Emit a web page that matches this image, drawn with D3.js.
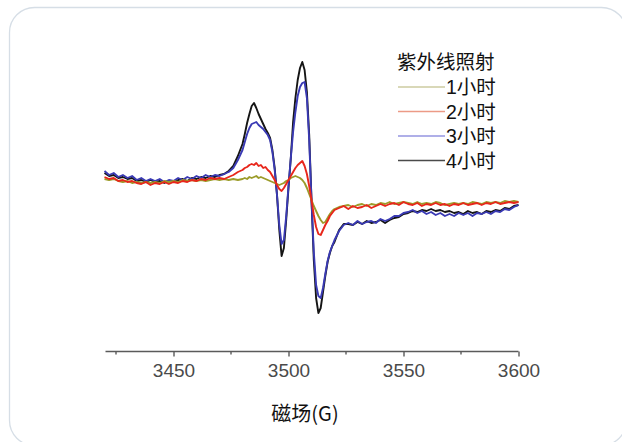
<!DOCTYPE html>
<html><head><meta charset="utf-8">
<script src="https://cdn.jsdelivr.net/npm/d3@7"></script>
<style>
html,body{margin:0;padding:0;background:#fff;}
svg{display:block;}
</style></head>
<body>
<svg id="chart" width="622" height="442"></svg>
<script>
// Magnetic field (G)
const fieldA = d3.range(3420, 3479, 2);
const fieldB = d3.range(3480, 3521, 1);
const fieldC = d3.range(3522, 3601, 2);
const field = fieldA.concat(fieldB, fieldC);

const xTicks = [3450, 3500, 3550, 3600];
const xMinorTicks = [3425, 3475, 3525, 3575];
const xTitle = "磁场(G)";
const legendTitle = "紫外线照射";
const seriesNames = ["1小时", "2小时", "3小时", "4小时"];

const s1h = [
  1,0,1,-1,-2,-1,-3,-2,-3,-2,-3,-2,-3,-1,-2,-1,-2,0,-1,0,-1,0,-1,0,1,0,1,0,1,0,
  1,2,1,3,2,3,4,2,3,2,1,0,-1,-2,-3,-4,-5,-4,-3,-1,0,2,3,4,3,2,0,-3,-8,-14,-20,-26,-31,-36,-40,-43,-42,-38,-34,-31,-29,
  -27,-26,-25,-27,-25,-24,-26,-24,-25,-23,-24,-22,-24,-23,-22,-23,-24,-22,-24,-23,-24,-22,-23,-25,-24,-23,-24,-23,-24,-22,-23,-24,-22,-23,-22,-23,-21,-22,-21,-22
];
const s2h = [
  3,1,2,-1,0,-2,-1,-3,-4,-2,-5,-3,-4,-2,-4,-2,-3,-1,-2,0,-1,1,0,2,1,2,1,3,5,8,
  10,12,13,15,16,15,17,14,15,12,13,10,8,4,0,-5,-9,-11,-8,-4,0,4,8,12,15,17,19,14,6,-6,-20,-35,-47,-54,-55,-50,-45,-41,-36,-33,-30,
  -28,-26,-29,-26,-28,-27,-25,-28,-26,-24,-26,-24,-23,-25,-22,-24,-25,-23,-26,-24,-25,-23,-25,-24,-26,-24,-25,-23,-25,-24,-23,-25,-23,-24,-22,-24,-23,-22,-23,-22
];
const s3h = [
  9,5,7,3,5,2,4,0,2,-1,1,-1,1,-2,0,-1,2,0,3,1,4,2,5,3,5,4,6,8,12,20,
  30,38,46,52,56,57,58,55,53,51,48,45,40,28,10,-15,-45,-64,-60,-36,-6,22,48,68,84,93,97,98,82,40,-20,-72,-105,-116,-118,-108,-94,-81,-72,-66,-60,
  -51,-45,-43,-45,-41,-44,-42,-41,-43,-39,-41,-39,-36,-36,-33,-32,-30,-33,-31,-34,-32,-35,-33,-36,-34,-36,-33,-35,-33,-36,-33,-34,-32,-34,-31,-32,-29,-30,-27,-25
];
const s4h = [
  7,4,5,2,3,1,2,-1,0,-2,0,-2,-1,-3,-1,-2,0,1,-1,2,1,3,2,4,3,5,6,9,14,24,
  36,46,57,66,74,77,72,66,61,56,51,47,42,30,12,-15,-50,-76,-68,-40,-8,22,58,82,100,112,118,110,88,45,-20,-80,-118,-133,-128,-112,-96,-82,-73,-66,-62,
  -50,-44,-44,-45,-42,-44,-41,-43,-42,-40,-43,-40,-38,-37,-34,-33,-31,-32,-30,-31,-29,-31,-30,-32,-31,-33,-32,-34,-31,-33,-32,-34,-31,-32,-30,-31,-28,-29,-26,-25
];

const seriesValues = [s1h, s2h, s3h, s4h];
const lineColors = ["#9c9c2a", "#e8261b", "#3a3ab4", "#151515"];
const legendColors = ["#cdcba0", "#ec9a86", "#9494e0", "#4a4a4a"];
const drawOrder = [3, 2, 0, 1];

const svg = d3.select("#chart");

// card
svg.append("rect")
  .attr("x", 9.5).attr("y", 7.5)
  .attr("width", 617).attr("height", 438)
  .attr("rx", 25).attr("ry", 25)
  .attr("fill", "#fff")
  .attr("stroke", "#d6dee6")
  .attr("stroke-width", 1.3);

const x = d3.scaleLinear().domain([3420, 3600]).range([104.5, 518.5]);
const y = d3.scaleLinear().domain([-150, 150]).range([330, 30]);

const line = d3.line()
  .x((d, i) => x(field[i]))
  .y(d => y(d));

const plot = svg.append("g");
drawOrder.forEach(k => {
  plot.append("path")
    .datum(seriesValues[k])
    .attr("d", line)
    .attr("fill", "none")
    .attr("stroke", lineColors[k])
    .attr("stroke-width", 1.9)
    .attr("stroke-linejoin", "round");
});

// x axis
const axisY = 351.5;
const gAxis = svg.append("g").attr("transform", `translate(0,${axisY})`);
gAxis.call(d3.axisBottom(x).tickValues(xTicks).tickSize(5).tickPadding(7).tickFormat(d3.format("d")));
gAxis.select(".domain").attr("stroke", "#5a5a5a").attr("stroke-width", 1.6)
  .attr("d", `M${x(3420)+1},0H${x(3600)}`);
gAxis.selectAll(".tick line").attr("stroke", "#5a5a5a").attr("stroke-width", 1.4);
gAxis.selectAll(".tick text")
  .attr("fill", "#4a4a4a")
  .style("font-family", "Liberation Sans, Arial, sans-serif")
  .style("font-size", "19px");
gAxis.selectAll(".minor")
  .data(xMinorTicks)
  .enter().append("line")
  .attr("x1", d => x(d)).attr("x2", d => x(d))
  .attr("y1", 0).attr("y2", 3)
  .attr("stroke", "#5a5a5a").attr("stroke-width", 1.4);

svg.append("text")
  .attr("x", 305).attr("y", 412)
  .attr("text-anchor", "middle")
  .attr("dominant-baseline", "central")
  .style("font-family", "Noto Sans CJK SC, sans-serif")
  .style("font-size", "20px")
  .attr("fill", "#111")
  .text(xTitle);

// legend (Latin primary font keeps line boxes compact; CJK glyphs fall back)
const legendFont = "'Liberation Sans', 'Noto Sans CJK SC', sans-serif";
const lg = svg.append("g");
lg.append("text")
  .attr("x", 397).attr("y", 62)
  .attr("dominant-baseline", "central")
  .style("font-family", legendFont)
  .style("font-size", "19.5px")
  .attr("fill", "#111")
  .text(legendTitle);
seriesNames.forEach((name, i) => {
  const yy = 87 + i * 24.5;
  lg.append("line")
    .attr("x1", 398).attr("x2", 445)
    .attr("y1", yy).attr("y2", yy)
    .attr("stroke", legendColors[i]).attr("stroke-width", 1.6);
  lg.append("text")
    .attr("x", 446).attr("y", yy)
    .attr("dominant-baseline", "central")
    .style("font-family", legendFont)
    .style("font-size", "19.5px")
    .attr("fill", "#111")
    .text(name);
});
</script>
</body></html>
